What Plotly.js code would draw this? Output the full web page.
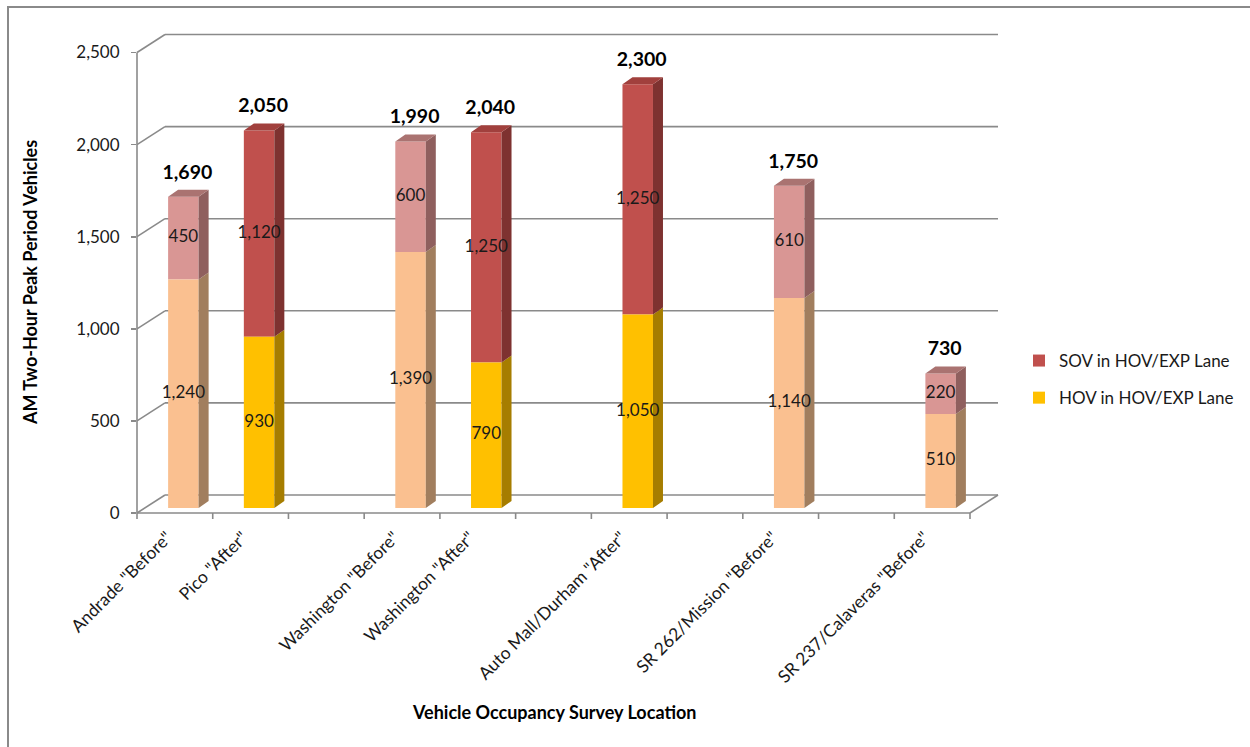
<!DOCTYPE html>
<html><head><meta charset="utf-8">
<script src="https://cdn.plot.ly/plotly-3.0.1.min.js"></script>
<style>
html,body{margin:0;padding:0;background:#fff}
#chart{position:absolute;left:0;top:0;width:1250px;height:747px}
#frame{position:absolute;left:7px;top:6px;width:1300px;height:800px;border-left:2px solid #8a8a8a;border-top:2px solid #8a8a8a;pointer-events:none}
</style>
</head><body><div id="chart"></div><div id="frame"></div>
<script>
// ---------------- data ----------------
const categories = ['Andrade "Before"', 'Pico "After"', 'Washington "Before"', 'Washington "After"',
                    'Auto Mall/Durham "After"', 'SR 262/Mission "Before"', 'SR 237/Calaveras "Before"'];
const slots = [0, 1, 3, 4, 6, 8, 10];
const phase = ['Before', 'After', 'Before', 'After', 'After', 'Before', 'Before'];
const hov = [1240, 930, 1390, 790, 1050, 1140, 510];
const sov = [450, 1120, 600, 1250, 1250, 610, 220];
const totals = [1690, 2050, 1990, 2040, 2300, 1750, 730];
const yTicks = [0, 500, 1000, 1500, 2000, 2500];
const yTickText = ['0', '500', '1,000', '1,500', '2,000', '2,500'];
const seriesNames = {sov: 'SOV in HOV/EXP Lane', hov: 'HOV in HOV/EXP Lane'};

// ---------------- geometry helpers ----------------
const W = 1250, H = 747;
const L = 137, R = 998, T = 34, B = 513;     // plot area in pixels
const frontRight = 970;                        // front edge of the floor
const X0 = -0.5, X1 = 10.5;
const PX = (frontRight - L) / (X1 - X0);       // px per x unit
const PY = (B - 52.5) / 2500;                  // px per y unit
const xMax = X0 + (R - L) / PX;
const yMax = (B - T) / PY;
const depthX = 28, depthY = 18;                // floor depth (px)
const fx = p => (p - L) / (R - L);
const fy = p => (B - p) / (B - T);

const shift = 8.5 / PX, bw = 30.5 / PX, base0 = 5 / PY, sdx = 10 / PX, sdy = 7 / PY;
const labelShift = -8 / PX;
const fmt = v => v.toLocaleString('en-US');

const colors = {
  Before: {hov: '#FAC090', sov: '#D99694', hovSide: '#A17E5E', sovSide: '#8F5F5E', top: '#AA7371'},
  After:  {hov: '#FFC000', sov: '#C0504D', hovSide: '#A67D00', sovSide: '#7E3230', top: '#A1403D'}
};

const traces = [];
const font = 'Lato, "Open Sans", sans-serif';

['After', 'Before'].forEach(ph => {
  const idx = slots.map((s, i) => i).filter(i => phase[i] === ph);
  const c = colors[ph];
  const xs = idx.map(i => slots[i] + shift);
  // front faces
  traces.push({type: 'bar', x: xs, y: idx.map(i => sov[i]), base: idx.map(i => base0 + hov[i]), width: bw,
    marker: {color: c.sov, line: {width: 0}}, name: seriesNames.sov, legendgroup: 'sov', legendrank: 1,
    showlegend: ph === 'After', hoverinfo: 'skip'});
  traces.push({type: 'bar', x: xs, y: idx.map(i => hov[i]), base: idx.map(() => base0), width: bw,
    marker: {color: c.hov, line: {width: 0}}, name: seriesNames.hov, legendgroup: 'hov', legendrank: 2,
    showlegend: ph === 'After', hoverinfo: 'skip'});
  // side and top faces
  const poly = (key, color) => {
    const px = [], py = [];
    idx.forEach(i => {
      const xr = slots[i] + shift + bw / 2, xl = xr - bw;
      let pts;
      if (key === 'hovSide') { const b0 = base0, b1 = base0 + hov[i];
        pts = [[xr, b0], [xr + sdx, b0 + sdy], [xr + sdx, b1 + sdy], [xr, b1]]; }
      else if (key === 'sovSide') { const b0 = base0 + hov[i], b1 = base0 + hov[i] + sov[i];
        pts = [[xr, b0], [xr + sdx, b0 + sdy], [xr + sdx, b1 + sdy], [xr, b1]]; }
      else { const t = base0 + hov[i] + sov[i];
        pts = [[xl, t], [xr, t], [xr + sdx, t + sdy], [xl + sdx, t + sdy]]; }
      pts.forEach(p => { px.push(p[0]); py.push(p[1]); });
      px.push(pts[0][0]); py.push(pts[0][1]);
      px.push(null); py.push(null);
    });
    traces.push({type: 'scatter', mode: 'lines', x: px, y: py, fill: 'toself', fillcolor: color,
      line: {width: 0, color: color}, showlegend: false, hoverinfo: 'skip'});
  };
  poly('hovSide', c.hovSide);
  poly('sovSide', c.sovSide);
  poly('top', c.top);
});

// segment value labels
const lx = [], ly = [], lt = [];
slots.forEach((s, i) => {
  lx.push(s + shift); ly.push(base0 + hov[i] / 2); lt.push(fmt(hov[i]));
  lx.push(s + shift); ly.push(base0 + hov[i] + sov[i] / 2); lt.push(fmt(sov[i]));
});
traces.push({type: 'scatter', mode: 'text', x: lx, y: ly, text: lt, textposition: 'middle center',
  textfont: {family: font, size: 17, color: '#1a1a1a'}, showlegend: false, hoverinfo: 'skip', cliponaxis: false});
// totals
traces.push({type: 'scatter', mode: 'text', x: slots.map(s => s + shift + 4 / PX),
  y: totals.map(t => base0 + t + 23 / PY), text: totals.map(t => '<b>' + fmt(t) + '</b>'),
  textposition: 'middle center', textfont: {family: font, size: 19.5, color: '#000'},
  showlegend: false, hoverinfo: 'skip', cliponaxis: false});

// ---------------- 3D frame shapes ----------------
const gl = {color: '#8a8a8a', width: 1.6};
const shapes = [];
const seg = (x0, y0, x1, y1) => shapes.push({type: 'line', xref: 'paper', yref: 'paper', layer: 'below',
  x0: fx(x0), y0: fy(y0), x1: fx(x1), y1: fy(y1), line: gl});
seg(L, B, L, B - 2500 * PY);
yTicks.forEach(v => {
  const yp = B - v * PY;
  seg(L, yp, L + depthX, yp - depthY);
  seg(L + depthX, yp - depthY, R, yp - depthY);
});
seg(L, B, frontRight, B);
seg(frontRight, B, frontRight + depthX, B - depthY);
for (let k = 0; k <= 11; k++) { const xp = L + k * PX; seg(xp, B, xp, B + 6); }

const layout = {
  width: W, height: H,
  paper_bgcolor: '#fff', plot_bgcolor: 'rgba(0,0,0,0)',
  margin: {l: L, r: W - R, t: T, b: H - B, autoexpand: false},
  barmode: 'overlay',
  font: {family: font, color: '#1a1a1a'},
  xaxis: {range: [X0, xMax], tickvals: slots.map(s => s + labelShift), ticktext: categories, tickangle: -45,
    ticks: '', showgrid: false, zeroline: false, showline: false, fixedrange: true,
    tickfont: {family: font, size: 17.5, color: '#1a1a1a'}, ticklabelstandoff: 10},
  yaxis: {range: [0, yMax], tickvals: yTicks, ticktext: yTickText, ticks: 'outside', ticklen: 5,
    tickcolor: '#8a8a8a', tickwidth: 1.6, showgrid: false, zeroline: false, showline: false, fixedrange: true,
    tickfont: {family: font, size: 17, color: '#1a1a1a'}, ticklabelstandoff: 8},
  showlegend: true,
  legend: {x: fx(1019), y: fy(343), xanchor: 'left', yanchor: 'top', traceorder: 'grouped',
    tracegroupgap: 12, font: {family: font, size: 17, color: '#1a1a1a'}, bgcolor: 'rgba(0,0,0,0)', itemwidth: 30},
  shapes: shapes,
  annotations: [
    {text: '<b>AM Two-Hour Peak Period Vehicles</b>', xref: 'paper', yref: 'paper', x: fx(30), y: fy(283),
      textangle: -90, showarrow: false, xanchor: 'center', yanchor: 'middle', font: {family: font, size: 18, color: '#000'}},
    {text: '<b>Vehicle Occupancy Survey Location</b>', xref: 'paper', yref: 'paper', x: fx(554), y: fy(712),
      showarrow: false, xanchor: 'center', yanchor: 'middle', font: {family: font, size: 18, color: '#000'}}
  ]
};

Plotly.newPlot('chart', traces, layout, {staticPlot: true, displayModeBar: false});
</script>
</body></html>
